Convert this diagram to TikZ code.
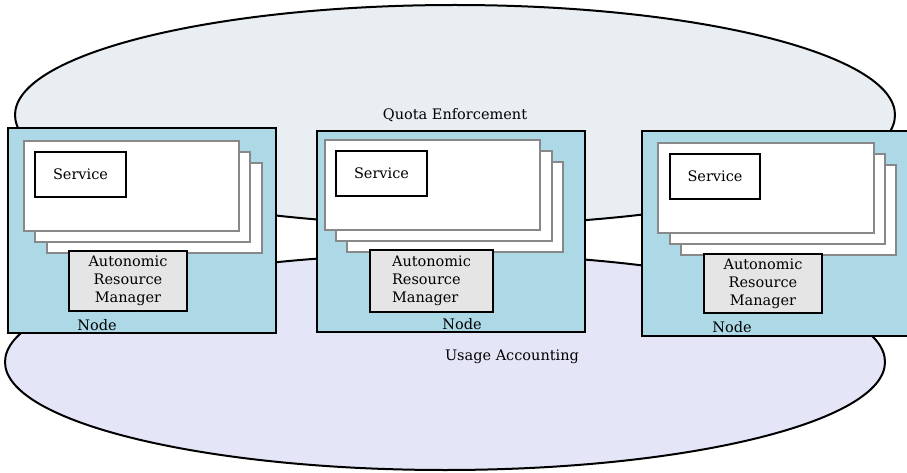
\documentclass[tikz,border=0pt]{standalone}
\usepackage{fontspec}
\setmainfont{DejaVu Serif}
\usepackage{tikz}
\usepackage{xcolor}
\usetikzlibrary{
    shapes,
    shapes.geometric
}
\definecolor{quotagray}{RGB}{232,238,241}
\definecolor{usagelav}{RGB}{229,229,248}
\definecolor{hostblue}{RGB}{173,216,230}
\definecolor{armgray}{RGB}{229,229,229}
\definecolor{cardgray}{RGB}{136,136,136}

\begin{document}
\begin{tikzpicture}[x=1pt, y=-1pt, font=\fontsize{14.5}{18}\selectfont,
    zone/.style={draw, ellipse, line width=2pt, minimum width=880pt, minimum height=220pt, inner sep=0pt},
    host/.style={draw, line width=2pt, fill=hostblue, anchor=north west, minimum width=268pt, minimum height=205pt, inner sep=0pt},
    card/.style={draw=cardgray, line width=2pt, fill=white, anchor=north west, minimum width=215pt, minimum height=90pt, inner sep=0pt},
    service/.style={draw, line width=2pt, fill=white, anchor=north west, minimum width=91pt, minimum height=45pt, inner sep=0pt},
    arm/.style={draw, line width=2pt, fill=armgray, anchor=north west, minimum width=118pt, minimum height=60pt, inner sep=0pt}]
            \useasboundingbox (0,0) rectangle (907,473);

            \node[zone, fill=quotagray] (quota) at (455,115) {Quota Enforcement};
            \node[zone, fill=usagelav, minimum height=216pt] (usage) at (445,362) {};
            \node (usagelabel) at (512,357) {Usage Accounting};

            % first node
            \node[host] (host1) at (7,127) {};
            \node[card] (back1) at (46,162) {};
            \node[card] (mid1) at (34,151) {};
            \node[card] (front1) at (23,140) {};
            \node[service] (service1) at (34,151) {Service};
            \node[arm, align=center] (arm1) at (68,250) {Autonomic\\Resource\\ Manager};
            \node (hostlabel1) at (97,325) {Node};

            % second node
            \node[host, minimum height=201pt] (host2) at (316,130) {};
            \node[card, minimum width=216pt] (back2) at (346,161) {};
            \node[card, minimum width=216pt] (mid2) at (335,150) {};
            \node[card] (front2) at (324,139) {};
            \node[service] (service2) at (335,150) {Service};
            \node[arm, align=left, minimum width=123pt, minimum height=62pt] (arm2) at (369,249) {Autonomic\\Resource\\Manager};
            \node (hostlabel2) at (462,324) {Node};

            % third node
            \node[host] (host3) at (641,130) {};
            \node[card] (back3) at (680,164) {};
            \node[card] (mid3) at (669,153) {};
            \node[card, minimum width=216pt] (front3) at (657,142) {};
            \node[service, minimum width=90pt] (service3) at (669,153) {Service};
            \node[arm, align=center, minimum height=59pt] (arm3) at (703,253) {Autonomic\\Resource\\ Manager};
            \node (hostlabel3) at (732,327) {Node};
\end{tikzpicture}
\end{document}
